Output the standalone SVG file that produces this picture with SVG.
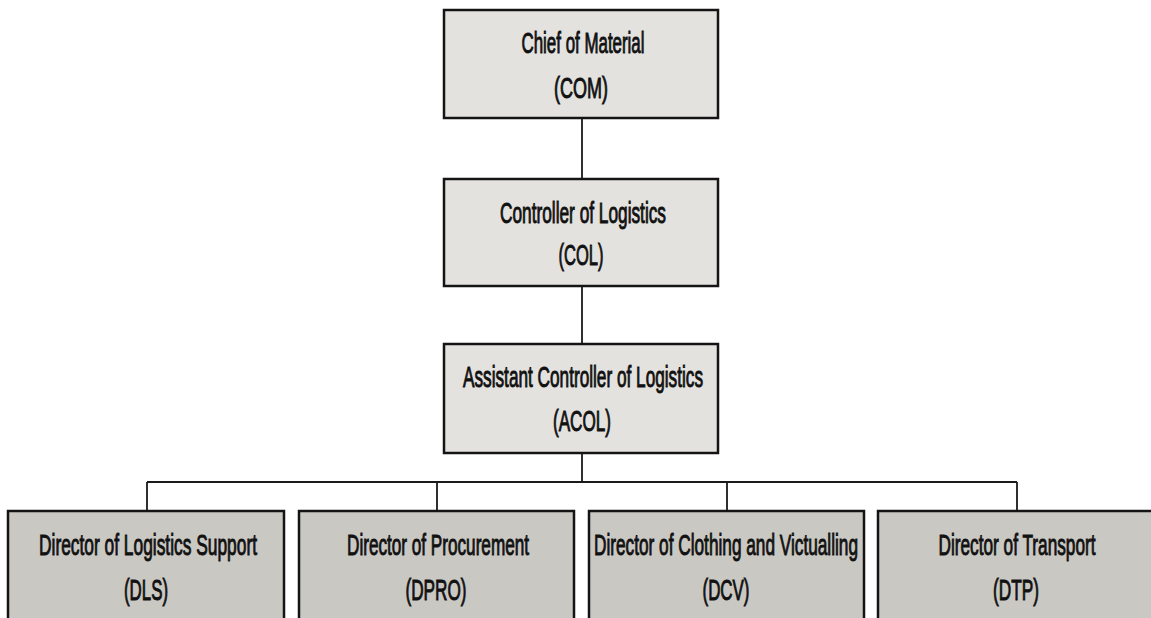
<svg xmlns="http://www.w3.org/2000/svg" width="1151" height="618" viewBox="0 0 1151 618">
<style>
.top{fill:#e3e2df;stroke:#141414;stroke-width:2.5}
.bot{fill:#cac8c3;stroke:#141414;stroke-width:2.5}
.t{font-family:"Liberation Sans",Arial,sans-serif;font-size:18px;fill:#111;stroke:#111;stroke-width:0.6;text-anchor:middle}
.c{stroke:#1a1a1a;stroke-width:1.8;fill:none}
</style>
<rect width="1151" height="618" fill="#ffffff"/>
<g id="connectors">
<path class="c" d="M582 118V179M582 286V344M582 453V482M147 482H1017M147 482V511M437 482V511M727 482V511M1017 482V511"/>
</g>
<g id="com">
<rect class="top" x="444" y="10" width="274" height="108"/>
<text class="t" transform="translate(583,53) scale(1,1.6)" textLength="123" lengthAdjust="spacingAndGlyphs">Chief of Material</text>
<text class="t" transform="translate(581,98) scale(1,1.6)" textLength="54" lengthAdjust="spacingAndGlyphs">(COM)</text>
</g>
<g id="col">
<rect class="top" x="444" y="179" width="274" height="107"/>
<text class="t" transform="translate(583,223) scale(1,1.6)" textLength="166" lengthAdjust="spacingAndGlyphs">Controller of Logistics</text>
<text class="t" transform="translate(581,265) scale(1,1.6)" textLength="45" lengthAdjust="spacingAndGlyphs">(COL)</text>
</g>
<g id="acol">
<rect class="top" x="444" y="344" width="274" height="109"/>
<text class="t" transform="translate(583,387) scale(1,1.6)" textLength="240" lengthAdjust="spacingAndGlyphs">Assistant Controller of Logistics</text>
<text class="t" transform="translate(582,431) scale(1,1.6)" textLength="58" lengthAdjust="spacingAndGlyphs">(ACOL)</text>
</g>
<g id="dls">
<rect class="bot" x="8" y="511" width="276" height="115"/>
<text class="t" transform="translate(148,555) scale(1,1.6)" textLength="218" lengthAdjust="spacingAndGlyphs">Director of Logistics Support</text>
<text class="t" transform="translate(146,600) scale(1,1.6)" textLength="44" lengthAdjust="spacingAndGlyphs">(DLS)</text>
</g>
<g id="dpro">
<rect class="bot" x="299" y="511" width="275" height="115"/>
<text class="t" transform="translate(438,555) scale(1,1.6)" textLength="182" lengthAdjust="spacingAndGlyphs">Director of Procurement</text>
<text class="t" transform="translate(436,600) scale(1,1.6)" textLength="61" lengthAdjust="spacingAndGlyphs">(DPRO)</text>
</g>
<g id="dcv">
<rect class="bot" x="589" y="511" width="275" height="115"/>
<text class="t" transform="translate(726,555) scale(1,1.6)" textLength="264" lengthAdjust="spacingAndGlyphs">Director of Clothing and Victualling</text>
<text class="t" transform="translate(726,600) scale(1,1.6)" textLength="47" lengthAdjust="spacingAndGlyphs">(DCV)</text>
</g>
<g id="dtp">
<rect class="bot" x="878" y="511" width="285" height="115"/>
<text class="t" transform="translate(1017,555) scale(1,1.6)" textLength="157" lengthAdjust="spacingAndGlyphs">Director of Transport</text>
<text class="t" transform="translate(1016,600) scale(1,1.6)" textLength="46" lengthAdjust="spacingAndGlyphs">(DTP)</text>
</g>
</svg>
